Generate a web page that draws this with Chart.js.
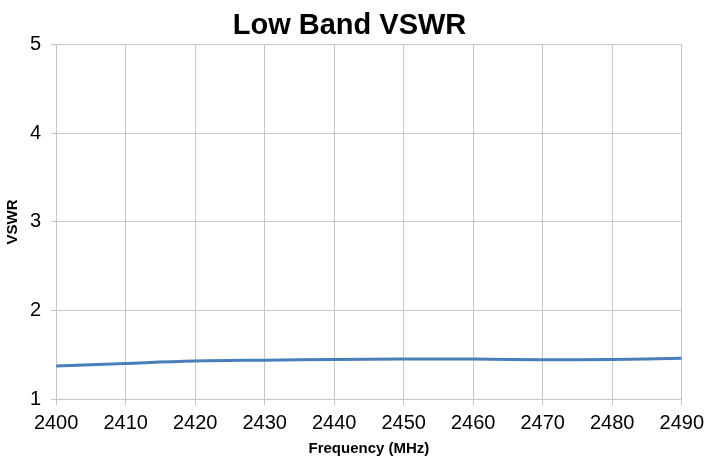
<!DOCTYPE html>
<html>
<head>
<meta charset="utf-8">
<script src="https://cdn.jsdelivr.net/npm/chart.js@4/dist/chart.umd.min.js"></script>
<style>
  html, body { margin: 0; padding: 0; background: #fff; }
  #wrap { width: 704px; height: 457px; }
</style>
</head>
<body>
<div id="wrap"><canvas id="cv"></canvas></div>
<script>
// 주파수 (MHz) / VSWR
const freqs = [2400, 2410, 2420, 2430, 2440, 2450, 2460, 2470, 2480, 2490];
const vswr  = [1.372, 1.402, 1.428, 1.439, 1.447, 1.451, 1.451, 1.443, 1.445, 1.459];
const yTicks = [1, 2, 3, 4, 5];

const grid = '#c6c6c6', tick = '#000';
const font = 'Liberation Sans, Arial, sans-serif';

new Chart(document.getElementById('cv'), {
  type: 'line',
  data: {
    datasets: [{
      label: 'VSWR',
      data: freqs.map((f, i) => ({ x: f, y: vswr[i] })),
      borderColor: '#4a7ebb', borderWidth: 3, pointRadius: 0, tension: 0.4, fill: false,
    }],
  },
  options: {
    responsive: true, maintainAspectRatio: false, animation: false,
    layout: { padding: { top: 4, right: 10, bottom: 1, left: 5 } },
    plugins: {
      legend: { display: false },
      tooltip: { enabled: false },
      title: { display: true, text: 'Low Band VSWR', color: '#000', font: { family: font, size: 29, weight: 'bold' }, padding: { top: 5, bottom: 1 } },
    },
    scales: {
      x: {
        type: 'linear', min: freqs[0], max: freqs[freqs.length - 1],
        grid: { color: grid, tickLength: 6, tickColor: grid },
        border: { color: grid },
        // lineHeight 로 라벨을 아래로 밀어냄 (padding 은 양쪽에 두 번 잡힘)
        ticks: { stepSize: 10, color: tick, font: { family: font, size: 20, lineHeight: 1.8 }, padding: 0, maxRotation: 0, callback: v => String(v) },
        title: { display: true, text: 'Frequency (MHz)', color: '#000', font: { family: font, size: 15, weight: 'bold', lineHeight: 1 }, padding: { top: 0, bottom: 0 } },
      },
      y: {
        min: yTicks[0], max: yTicks[yTicks.length - 1],
        grid: { color: grid, tickLength: 5, tickColor: grid },
        border: { color: grid },
        afterBuildTicks: ax => { ax.ticks = yTicks.map(v => ({ value: v })); },
        ticks: { color: tick, font: { family: font, size: 20 }, padding: 10, callback: v => String(v) },
        title: { display: true, text: 'VSWR', color: '#000', font: { family: font, size: 15, weight: 'bold', lineHeight: 1 }, padding: { top: 0, bottom: 0 } },
      },
    },
  },
});
</script>
</body>
</html>
